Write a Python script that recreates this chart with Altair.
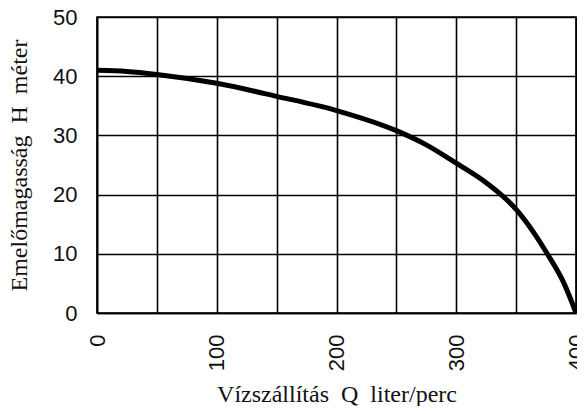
import altair as alt
import pandas as pd

q_values = [0, 25, 50, 100, 150, 200, 250, 275, 300, 325, 350, 365, 376, 390, 400]
h_values = [41.0, 40.8, 40.3, 38.8, 36.6, 34.2, 30.8, 28.4, 25.3, 22.0, 17.5, 13.5, 10.0, 5.0, 0.0]

x_grid = [0, 50, 100, 150, 200, 250, 300, 350, 400]
y_ticks = [0, 10, 20, 30, 40, 50]

NB = "\u00a0"
x_title = f"Vízszállítás{NB}{NB}Q{NB}{NB}liter/perc"
y_title = f"Emelőmagasság{NB}{NB}H{NB}{NB}méter"

df = pd.DataFrame({"Q": q_values, "H": h_values})

chart = alt.Chart(df).mark_line(color="black", strokeWidth=5, interpolate="monotone").encode(
    x=alt.X("Q:Q", scale=alt.Scale(domain=[0, 400], nice=False),
            axis=alt.Axis(values=x_grid, labelAngle=-90, labelPadding=21,
                          labelExpr="datum.value % 100 == 0 ? datum.label : ''",
                          title=x_title, titlePadding=12)),
    y=alt.Y("H:Q", scale=alt.Scale(domain=[0, 50], nice=False),
            axis=alt.Axis(values=y_ticks, labelPadding=20,
                          title=y_title, titlePadding=21)),
).properties(
    width=479, height=296,
    autosize=alt.AutoSizeParams(type="none"),
    padding={"left": 89, "top": 9, "right": 1, "bottom": 93},
).configure_axis(
    grid=True, gridColor="black", gridWidth=1.6, gridOpacity=1,
    domainColor="black", domainWidth=1.6, ticks=False,
    labelFont="Liberation Sans", labelFontSize=22, labelColor="#111",
    titleFont="Liberation Serif", titleFontSize=24, titleFontWeight="normal", titleColor="#111",
).configure_view(stroke="black", strokeWidth=1.6)

chart.save("out.html", embed_options={"renderer": "svg", "actions": False})
